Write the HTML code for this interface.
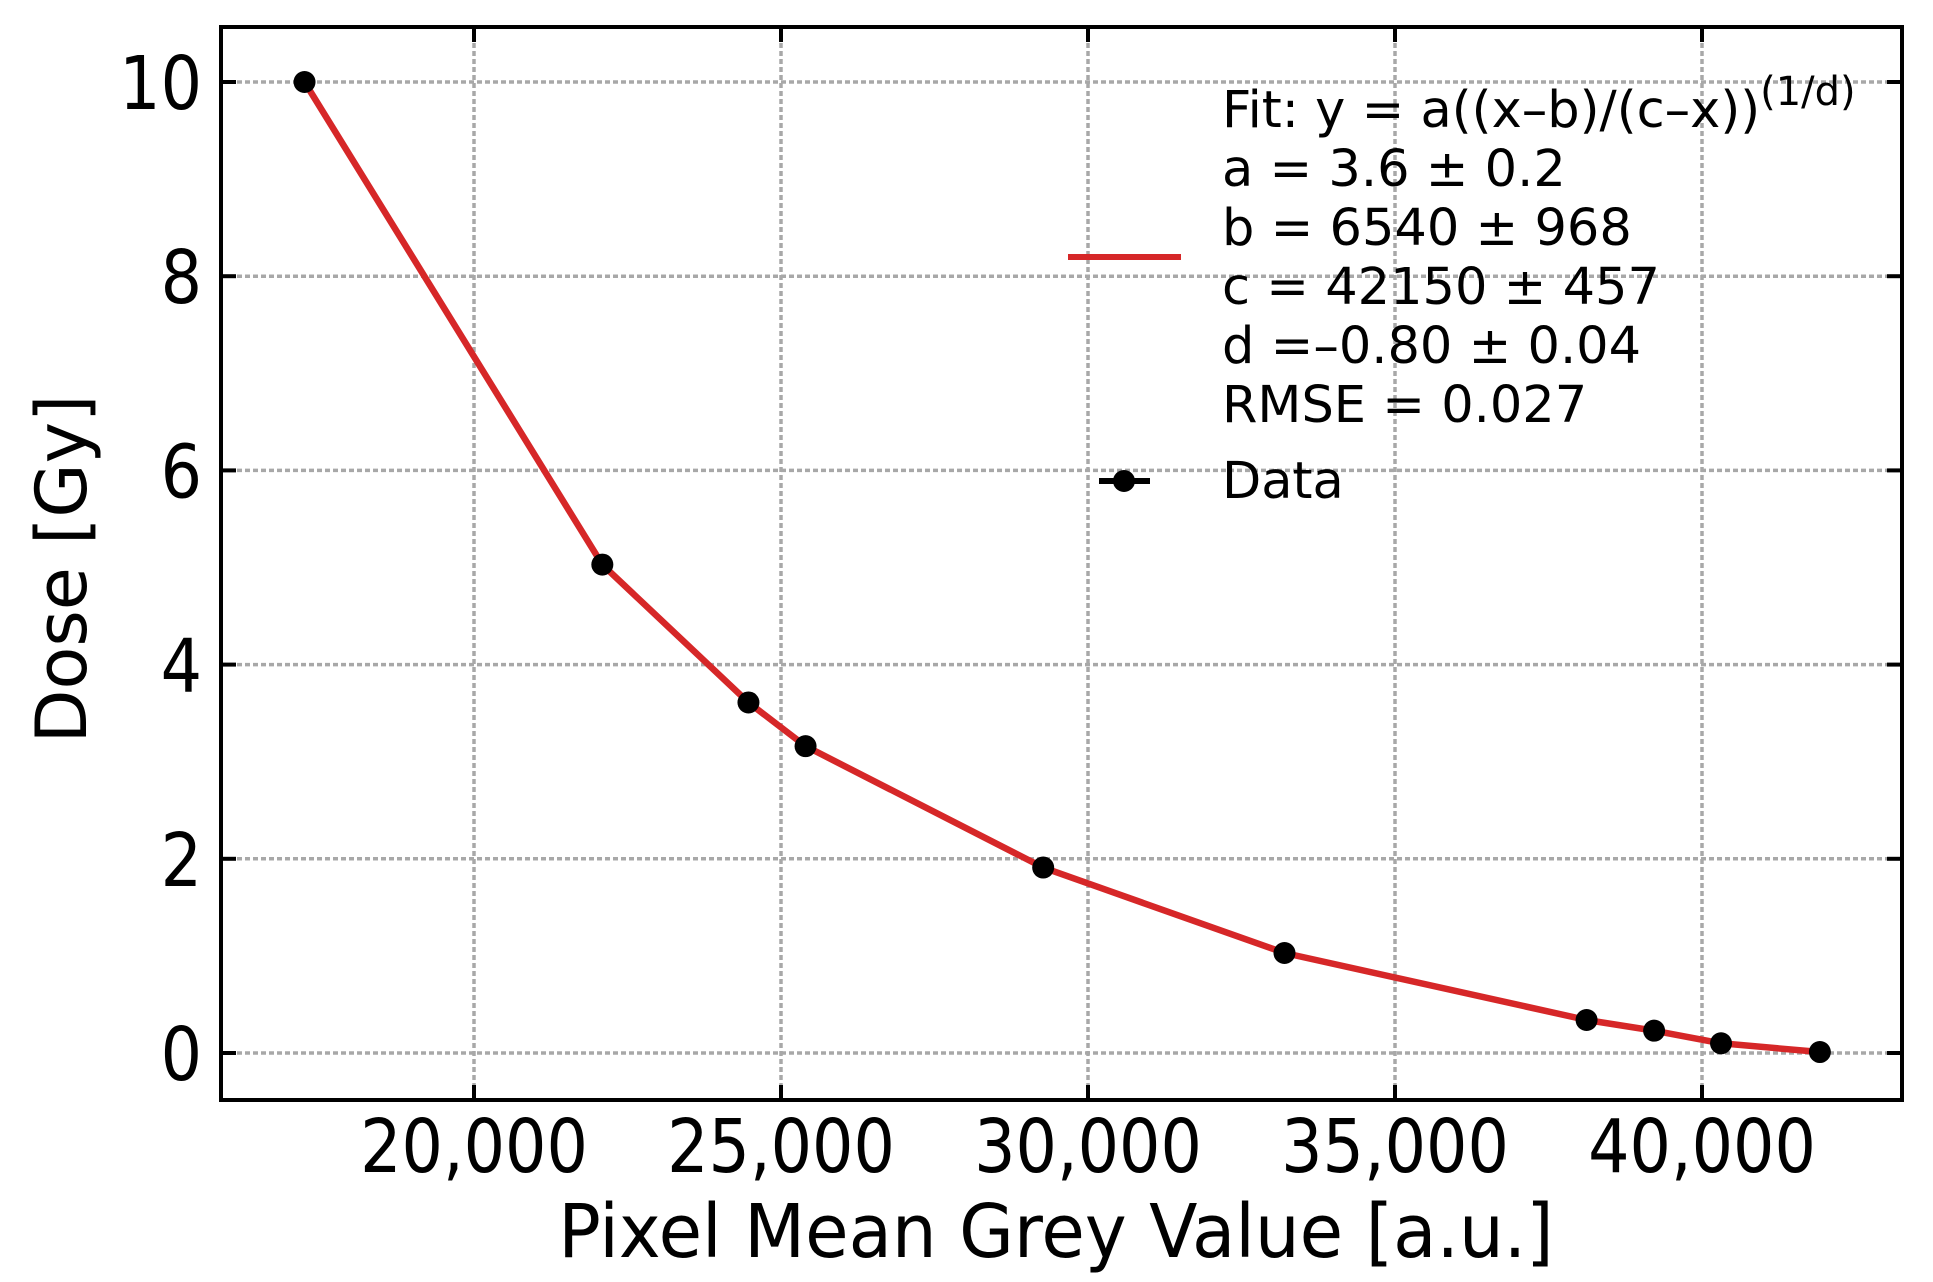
<!DOCTYPE html>
<html><head><meta charset="utf-8"><style>
html,body{margin:0;padding:0;background:#fff;}
svg{display:block;font-family:"DejaVu Sans","Liberation Sans",sans-serif;}
</style></head><body>
<svg id="chart" width="1933" height="1282" viewBox="0 0 1933 1282" xmlns="http://www.w3.org/2000/svg">
<g id="grid"></g>
<g id="ticks"></g>
<g id="series"></g>
<rect x="221" y="27" width="1681" height="1073" fill="none" stroke="#000" stroke-width="4"/>
<text transform="translate(1056,1257) scale(0.955,1)" font-size="74" text-anchor="middle">Pixel Mean Grey Value [a.u.]</text>
<text transform="translate(86,569) rotate(-90)" font-size="70" text-anchor="middle">Dose [Gy]</text>
<g font-size="51">
  <line x1="1068" y1="257" x2="1181" y2="257" stroke="#d62728" stroke-width="6"/>
  <text x="1222" y="127">Fit: y = a((x–b)/(c–x))<tspan font-size="40" dy="-22">(1/d)</tspan></text>
  <text x="1222" y="186">a = 3.6 ± 0.2</text>
  <text x="1222" y="245">b = 6540 ± 968</text>
  <text x="1222" y="304">c = 42150 ± 457</text>
  <text x="1222" y="363">d =–0.80 ± 0.04</text>
  <text x="1222" y="422">RMSE = 0.027</text>
  <line x1="1099" y1="481" x2="1150" y2="481" stroke="#000" stroke-width="6"/>
  <circle cx="1124" cy="481" r="11" fill="#000"/>
  <text x="1222" y="498">Data</text>
</g>
</svg>
<script>
const xValues = [17240, 22090, 24470, 25400, 29270, 33200, 38120, 39220, 40310, 41920];
const doseValues = [10.0, 5.03, 3.61, 3.16, 1.91, 1.03, 0.34, 0.23, 0.10, 0.01];
const xTicks = [20000, 25000, 30000, 35000, 40000];
const xTickLabels = ["20,000", "25,000", "30,000", "35,000", "40,000"];
const yTicks = [0, 2, 4, 6, 8, 10];
const yTickLabels = ["0", "2", "4", "6", "8", "10"];

const NS = "http://www.w3.org/2000/svg";
const L = 221, R = 1902, T = 27, B = 1100;
function xs(v){ return 474 + (v - 20000) * (307 / 5000); }
function ys(v){ return 1053 - v * 97.1; }
function mk(tag, attrs, parent){
  const e = document.createElementNS(NS, tag);
  for (const k in attrs) e.setAttribute(k, attrs[k]);
  parent.appendChild(e);
  return e;
}
const grid = document.getElementById('grid');
const ticks = document.getElementById('ticks');
const series = document.getElementById('series');

xTicks.forEach((t, i) => {
  const x = xs(t);
  const g = mk('line', {x1:x, y1:T, x2:x, y2:B, stroke:'#a8a8a8', 'stroke-width':3.5, 'stroke-dasharray':'5 3'}, grid);
  
  
  const tb = mk('line', {x1:x, y1:B, x2:x, y2:B-15, stroke:'#000', 'stroke-width':4}, ticks);
  
  
  const tt = mk('line', {x1:x, y1:T, x2:x, y2:T+15, stroke:'#000', 'stroke-width':4}, ticks);
  
  
  const lb = mk('text', {transform:'translate(' + x + ',1172) scale(0.88,1)', 'font-size':74, 'text-anchor':'middle'}, ticks);
  lb.textContent = xTickLabels[i];
  
  
});
yTicks.forEach((t, i) => {
  const y = ys(t);
  const g = mk('line', {x1:L, y1:y, x2:R, y2:y, stroke:'#a8a8a8', 'stroke-width':3.5, 'stroke-dasharray':'5 3'}, grid);
  
  
  const tl = mk('line', {x1:L, y1:y, x2:L+15, y2:y, stroke:'#000', 'stroke-width':4}, ticks);
  
  
  const tr = mk('line', {x1:R, y1:y, x2:R-15, y2:y, stroke:'#000', 'stroke-width':4}, ticks);
  
  
  const lb = mk('text', {transform:'translate(202,' + (y + 27) + ') scale(0.88,1)', 'font-size':74, 'text-anchor':'end'}, ticks);
  lb.textContent = yTickLabels[i];
  
  
});
const pts = xValues.map((v, i) => xs(v) + ',' + ys(doseValues[i])).join(' ');
const fit = mk('polyline', {points:pts, fill:'none', stroke:'#d62728', 'stroke-width':6.5, 'stroke-linejoin':'round'}, series);


xValues.forEach((v, i) => {
  const c = mk('circle', {cx:xs(v), cy:ys(doseValues[i]), r:11, fill:'#000'}, series);
  
  
});
</script>
</body></html>
